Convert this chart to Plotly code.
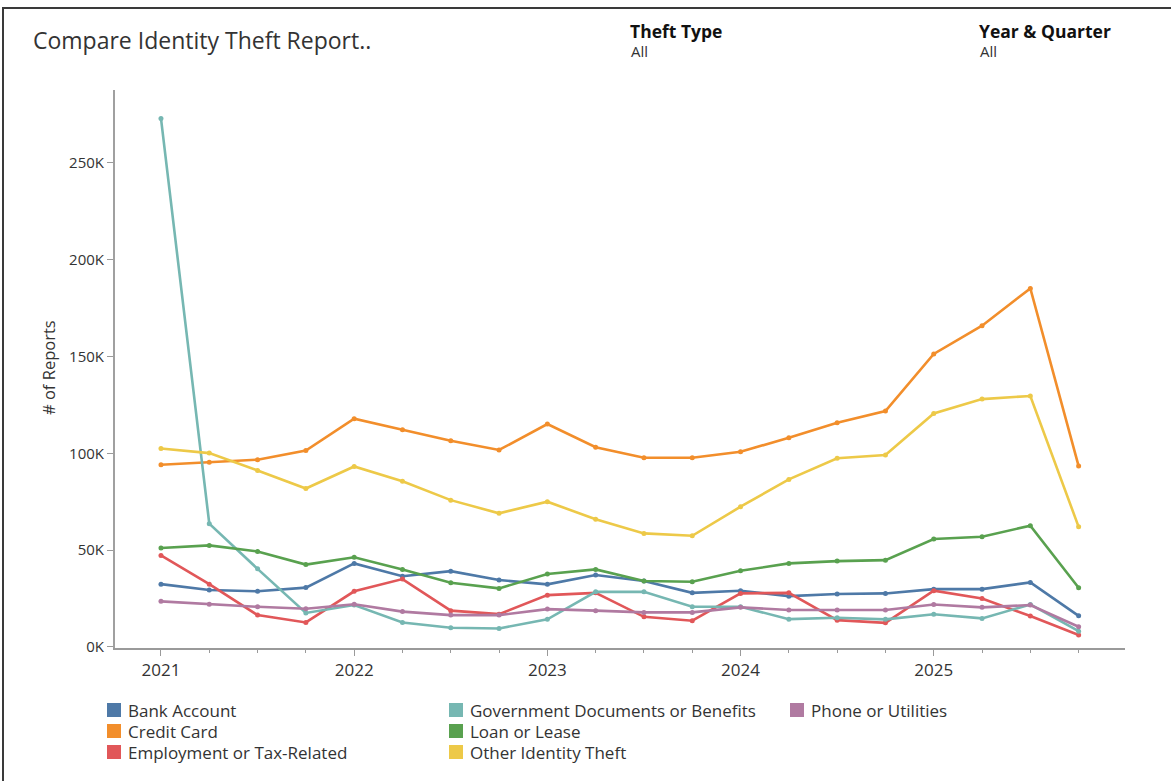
import plotly.graph_objects as go

quarters = ["2021 Q1", "2021 Q2", "2021 Q3", "2021 Q4", "2022 Q1", "2022 Q2", "2022 Q3", "2022 Q4",
            "2023 Q1", "2023 Q2", "2023 Q3", "2023 Q4", "2024 Q1", "2024 Q2", "2024 Q3", "2024 Q4",
            "2025 Q1", "2025 Q2", "2025 Q3", "2025 Q4"]

# values in thousands of reports
bank_account = [32.4, 29.4, 28.7, 30.6, 43.1, 36.5, 39.1, 34.5, 32.3, 37.1, 34.0, 27.9, 29.0, 26.2, 27.3, 27.6, 29.8, 29.8, 33.3, 16.0]
credit_card = [94.1, 95.4, 96.7, 101.4, 117.9, 112.2, 106.5, 101.7, 115.1, 103.1, 97.7, 97.7, 100.8, 108.0, 115.8, 121.8, 151.3, 165.9, 185.2, 93.4]
employment_tax = [47.2, 32.4, 16.4, 12.6, 28.7, 35.0, 18.7, 16.9, 26.7, 27.9, 15.5, 13.5, 27.6, 27.9, 13.8, 12.4, 29.0, 25.0, 15.9, 6.1]
government_docs = [273.0, 63.6, 40.3, 17.5, 21.6, 12.6, 9.9, 9.5, 14.2, 28.4, 28.4, 20.7, 20.7, 14.3, 15.0, 14.2, 16.8, 14.7, 21.9, 8.1]
loan_lease = [51.1, 52.4, 49.3, 42.5, 46.3, 39.9, 33.1, 30.2, 37.6, 40.0, 34.0, 33.6, 39.3, 43.1, 44.3, 44.8, 55.7, 56.9, 62.6, 30.5]
other_theft = [102.5, 100.1, 91.1, 81.8, 93.2, 85.5, 75.8, 69.0, 75.0, 65.9, 58.6, 57.4, 72.4, 86.5, 97.4, 99.1, 120.6, 128.0, 129.6, 62.0]
phone_utilities = [23.5, 22.0, 20.7, 19.7, 22.0, 18.2, 16.4, 16.4, 19.5, 18.7, 17.8, 17.8, 20.4, 19.0, 19.0, 19.0, 21.9, 20.4, 21.6, 10.4]

series_names = ["Bank Account", "Credit Card", "Employment or Tax-Related", "Government Documents or Benefits",
                "Loan or Lease", "Other Identity Theft", "Phone or Utilities"]
series_values = [bank_account, credit_card, employment_tax, government_docs, loan_lease, other_theft, phone_utilities]
colors = ["#4E79A7", "#F28E2B", "#E15759", "#76B7B2", "#59A14F", "#EDC948", "#B07AA1"]

year_ticks = [2021, 2022, 2023, 2024, 2025]
y_tick_vals = [0, 50, 100, 150, 200, 250]
y_tick_text = ["0K", "50K", "100K", "150K", "200K", "250K"]

# numeric x position of each quarter
x_vals = [int(q[:4]) + (int(q[-1]) - 1) * 0.25 for q in quarters]

W, H = 1171, 781
L, R, T, B = 115, 1125, 90, 648


def px(x):
    return (x - L) / (R - L)


def py(y):
    return (B - y) / (B - T)


FONT = "Open Sans"
TXT = "#333333"

fig = go.Figure()
for name, vals, col in zip(series_names, series_values, colors):
    fig.add_trace(go.Scatter(
        x=x_vals, y=vals, name=name, mode="lines+markers",
        line=dict(color=col, width=2.6),
        marker=dict(color=col, size=5),
        showlegend=False,
        customdata=quarters,
        hovertemplate="%{customdata}<br>%{y:.1f}K<extra>" + name + "</extra>",
    ))

shapes = []
annotations = []

# outer frame
shapes.append(dict(type="rect", xref="paper", yref="paper",
                   x0=px(3), x1=px(1190), y0=py(800), y1=py(8),
                   line=dict(color="#3a3a3a", width=2), fillcolor="rgba(0,0,0,0)", layer="above"))

# title and filter labels
annotations.append(dict(text="Compare Identity Theft Report..", xref="paper", yref="paper",
                        x=px(31), y=py(40), xanchor="left", yanchor="middle", showarrow=False,
                        font=dict(family=FONT, size=23, color=TXT)))
for lx, head in [(628, "Theft Type"), (977, "Year & Quarter")]:
    annotations.append(dict(text="<b>" + head + "</b>", xref="paper", yref="paper",
                            x=px(lx), y=py(31), xanchor="left", yanchor="middle", showarrow=False,
                            font=dict(family=FONT, size=17.5, color="#111111")))
    annotations.append(dict(text="All", xref="paper", yref="paper",
                            x=px(lx + 1), y=py(51), xanchor="left", yanchor="middle", showarrow=False,
                            font=dict(family=FONT, size=15, color=TXT)))

# y axis title
annotations.append(dict(text="# of Reports", xref="paper", yref="paper",
                        x=px(48), y=py(368), xanchor="center", yanchor="middle", textangle=-90,
                        showarrow=False, font=dict(family=FONT, size=16.5, color=TXT)))

# manual legend (3 columns, column-major order)
col_x = [107, 449, 790]
row_y = [710, 731, 752]
for i, (name, col) in enumerate(zip(series_names, colors)):
    c, r = divmod(i, 3)
    x0, yc = col_x[c], row_y[r]
    shapes.append(dict(type="rect", xref="paper", yref="paper",
                       x0=px(x0), x1=px(x0 + 14), y0=py(yc + 7), y1=py(yc - 7),
                       line=dict(width=0), fillcolor=col))
    annotations.append(dict(text=name, xref="paper", yref="paper",
                            x=px(x0 + 19), y=py(yc), xanchor="left", yanchor="middle", showarrow=False,
                            font=dict(family=FONT, size=17, color=TXT)))

fig.update_layout(
    width=W, height=H,
    margin=dict(l=L, r=W - R, t=T, b=H - B),
    paper_bgcolor="white", plot_bgcolor="white",
    font=dict(family=FONT, size=15, color=TXT),
    shapes=shapes, annotations=annotations,
    showlegend=False,
    xaxis=dict(range=[2020.762, 2025.99], tickvals=year_ticks, ticktext=[str(y) for y in year_ticks],
               showgrid=False, zeroline=False, showline=True, linecolor="#9a9a9a", linewidth=1.5,
               ticks="outside", ticklen=6, tickcolor="#9a9a9a", tickfont=dict(size=17, color=TXT),
               minor=dict(tick0=2021, dtick=0.25, ticks="outside", ticklen=3, tickcolor="#9a9a9a")),
    yaxis=dict(range=[-0.6, 287.7], tickvals=y_tick_vals, ticktext=y_tick_text,
               showgrid=False, zeroline=False, showline=True, linecolor="#a0a0a0", linewidth=2,
               ticks="outside", ticklen=6, tickcolor="#9a9a9a", tickfont=dict(size=15, color=TXT)),
)

fig.write_html("out.html")
